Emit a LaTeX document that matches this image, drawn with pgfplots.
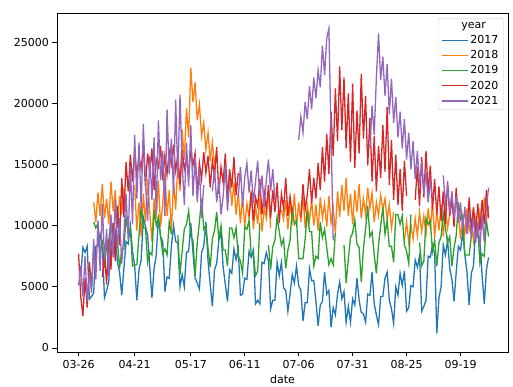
\documentclass[border=0pt]{standalone}
\usepackage{fontspec}
\setmainfont{DejaVu Sans}
\usepackage{pgfplots}
\usepackage{pgfplotstable}
\pgfplotsset{compat=1.18}
\definecolor{c17}{HTML}{1F77B4}
\definecolor{c18}{HTML}{FF7F0E}
\definecolor{c19}{HTML}{2CA02C}
\definecolor{c20}{HTML}{D62728}
\definecolor{c21}{HTML}{9467BD}
\pgfplotstableread{
d a b c e f
85 5900 nan nan 7700 5100
86 5900 nan nan 4200 6700
87 8200 nan nan 2600 4200
88 7800 nan nan 5700 7500
89 8300 nan nan 3300 3800
90 4000 nan nan 7000 6200
91 4200 nan nan 4900 4500
92 4500 11900 10300 8100 8900
93 8300 10300 9800 nan 5600
94 8300 12700 10200 nan 10400
95 9300 10800 7700 nan 6300
96 8400 13400 8600 5800 11800
97 4100 10600 6500 7800 7200
98 4700 12200 8400 5200 9700
99 5400 10100 8700 8900 5800
100 8800 13600 10600 6400 10900
101 8200 11200 9400 10200 7400
102 9400 12900 8300 7100 12100
103 7000 9800 8800 11600 8200
104 6200 12400 6500 8400 10600
105 4300 10900 8000 13900 6900
106 6500 13100 8100 10700 9300
107 8700 11500 10700 15200 12600
108 8500 nan 9400 12800 8800
109 10000 nan 9800 15800 14900
110 7900 nan 6700 13600 10100
111 6700 13300 6800 16200 17400
112 3900 9600 6800 14100 12200
113 6400 11900 9200 15600 16800
114 7200 9100 11500 14700 11300
115 10700 12600 9800 16400 18300
116 9900 10300 9800 13200 13500
117 9200 13800 7000 15900 10400
118 6600 11100 7800 14400 15700
119 4100 8700 7600 16300 12100
120 6500 12200 11300 12900 17200
121 7600 10600 10000 15400 11000
122 10700 13700 10700 14800 18600
123 9100 9900 9100 16500 13700
124 8700 11800 7700 13700 16100
125 4600 14300 8100 15700 10800
126 5800 10800 7600 14200 19500
127 5700 12900 10300 16100 14200
128 8300 9400 9300 15000 17100
129 10000 13600 nan 16600 12600
130 8700 11300 nan 14500 20300
131 8600 15200 9200 15800 13900
132 5000 12800 6000 13300 20700
133 6000 17800 7900 16200 15100
134 5000 15400 9700 14600 11700
135 7800 19600 10100 15500 16800
136 7900 17200 11200 13900 13200
137 10200 22900 9100 16300 18200
138 7800 20100 8800 14900 12400
139 5700 21700 5900 15900 15600
140 5300 18600 8600 12700 11900
141 4800 19900 10300 15100 14700
142 7800 17300 12200 13800 10600
143 8300 18400 9700 16000 13300
144 10300 16200 10000 14300 nan
145 7100 17600 8100 15700 nan
146 5200 15300 6600 13100 nan
147 3400 16800 8900 15300 12800
148 6400 14900 9600 14000 14600
149 6900 16100 11100 16400 11900
150 8800 nan 8900 12600 13700
151 9400 nan 10000 14800 10900
152 6600 nan 8000 13500 12400
153 5200 14800 8000 15900 14900
154 3800 12300 6700 12200 11200
155 6400 14100 9800 14600 13600
156 6100 11600 9800 13100 nan
157 8100 13500 9000 15600 nan
158 7200 10900 9800 12500 nan
159 8100 12700 7500 14300 12300
160 4300 10200 7100 nan 14800
161 4400 12400 6100 nan 11600
162 5700 9900 9900 nan 13900
163 5600 11800 9700 nan 15100
164 7900 10600 10400 10800 12700
165 7400 12900 7600 12700 14500
166 8000 9700 7700 10400 11800
167 3600 11600 5900 12300 13600
168 3900 10100 6300 11600 15300
169 3600 12300 10200 13800 12400
170 7000 9500 nan 10900 14100
171 6900 11400 nan 12800 11500
172 7800 10600 nan 11300 13700
173 7100 12800 8400 13300 15400
174 3200 9800 6400 10600 12800
175 3900 nan 8300 12900 14600
176 3900 nan 8800 11100 12100
177 7000 nan 10700 13500 nan
178 5900 nan 9500 10200 nan
179 7000 11300 8400 12600 nan
180 4900 10500 8900 11400 nan
181 4700 12100 6500 13900 nan
182 3000 9700 8000 10800 nan
183 4400 11800 8800 12400 nan
184 6000 10400 11500 11000 nan
185 5300 12600 10100 nan nan
186 6700 9900 10400 nan nan
187 5100 11900 7300 nan 17000
188 4700 10300 7300 10700 18900
189 2200 12400 7300 13400 17600
190 3700 9800 8900 11300 20100
191 3700 11600 11200 12500 18700
192 6500 10400 9500 14600 21400
193 5500 12100 9500 11800 19500
194 5500 10000 6700 13900 22100
195 3800 11700 7500 12200 20400
196 1800 9600 7300 15100 22700
197 3500 12300 10300 12900 21300
198 3800 10600 9000 16400 24700
199 6200 11800 9700 13600 22300
200 4400 9900 8200 17500 25300
201 4700 12400 6800 14200 26100
202 1700 10200 7300 19300 17500
203 3300 11500 6800 15700 8800
204 2700 9400 9400 21200 nan
205 4400 12800 nan 16900 nan
206 5400 10700 nan 23000 nan
207 4000 13300 nan 17800 nan
208 4600 11200 8400 22100 nan
209 2100 13900 5300 16300 nan
210 3400 10800 7200 20800 nan
211 2100 12600 9000 15200 nan
212 4000 10100 9400 21600 nan
213 3500 12900 10500 14700 nan
214 5700 11100 8500 19400 nan
215 3900 13400 8200 15900 nan
216 2900 10600 5400 22400 nan
217 2800 12200 8100 17100 nan
218 2100 10900 9700 20600 nan
219 4400 13100 11600 14900 nan
220 4300 11400 9100 18800 16300
221 6200 12700 9500 13600 19800
222 3600 10300 7600 17300 17400
223 2700 11900 6100 12800 22100
224 1900 10800 8400 16500 25700
225 4200 12500 10000 13900 21900
226 4200 11300 11500 18200 23800
227 5700 12200 9300 14400 20600
228 6200 10500 10400 19700 23200
229 3900 11700 8300 13300 19100
230 3200 9800 8300 17000 22000
231 2000 11100 7000 12100 18400
232 5000 nan 10900 15800 20500
233 4300 nan 10900 11700 17200
234 6100 nan 10100 14600 19300
235 5100 nan 10800 11200 16300
236 6300 8800 8400 15300 18700
237 3000 10300 7900 12400 15400
238 3300 8600 6900 nan 17600
239 5100 10100 10900 nan 14600
240 5000 8900 nan nan 16900
241 7200 10600 nan 12100 13800
242 6600 9200 nan 14800 16100
243 7500 11100 8600 11600 13300
244 3000 9500 6700 15600 15200
245 3400 10800 7100 12300 12600
246 3900 9300 10600 16100 14400
247 7500 11400 10100 12700 11900
248 7400 9700 10400 14900 13600
249 8400 11900 7900 11300 12300
250 7700 9000 8800 13800 nan
251 1200 11200 6700 10900 nan
252 4100 9600 8600 13200 nan
253 5000 11700 9100 10400 nan
254 8400 9100 11000 12800 14100
255 7600 11300 9800 10100 11800
256 8800 9800 8600 13600 13200
257 6500 10900 9100 10800 11100
258 5600 nan 6700 12200 12800
259 3800 nan 8200 9900 10600
260 6200 nan 9200 13100 12400
261 8300 11000 11900 10300 10200
262 8000 8900 10500 nan 11900
263 9500 10700 10800 nan 9700
264 7600 9300 7600 nan 11500
265 6200 11400 7600 9400 9300
266 3500 9600 7600 12300 11100
267 6100 10200 9100 9700 8900
268 6700 8800 11400 11500 10700
269 10000 10600 9700 9200 8600
270 9100 9400 9700 11800 10300
271 8700 11100 6900 9600 8300
272 5900 9700 7700 12100 10900
273 3600 12300 7500 10100 8700
274 6400 10400 10400 12900 11600
275 7400 11600 9100 10600 13100
}\datatable
\begin{document}
\begin{tikzpicture}
\useasboundingbox (0,0) rectangle (513pt,387pt);
\begin{axis}[
  at={(57pt,35pt)}, anchor=south west,
  scale only axis, width=451pt, height=339pt,
  xmin=75, xmax=284, ymin=-330, ymax=27370,
  xtick={85,111,137,162,187,212,237,262},
  xticklabels={03-26,04-21,05-17,06-11,07-06,07-31,08-25,09-19},
  ytick={0,5000,10000,15000,20000,25000},
  scaled y ticks=false,
  yticklabel style={/pgf/number format/.cd, 1000 sep={}},
  /pgf/number format/assume math mode=true,
  tick label style={font=\fontsize{11}{13}\selectfont},
  label style={font=\fontsize{11}{13}\selectfont},
  xlabel={date},
  tick align=outside, xtick pos=bottom, ytick pos=left,
  major tick length=4.5pt,
  tick style={black, line width=0.8pt},
  axis line style={line width=0.8pt},
  unbounded coords=jump,
  every axis plot/.append style={line width=1.3pt, no markers},
  legend image code/.code={\draw[#1] (0pt,0pt) -- (26pt,0pt);},
  legend cell align=left,
  legend style={at={(0.99,0.985)}, anchor=north east, draw=black!20, rounded corners=2pt,
    fill=white, fill opacity=0.8, text opacity=1, font=\fontsize{11}{13}\selectfont, row sep=1.5pt},
]
\addlegendimage{empty legend}
\addlegendentry{\hspace*{-9pt}year}
\addplot[c17] table[x=d,y=a]{\datatable};
\addlegendentry{2017}
\addplot[c18] table[x=d,y=b]{\datatable};
\addlegendentry{2018}
\addplot[c19] table[x=d,y=c]{\datatable};
\addlegendentry{2019}
\addplot[c20] table[x=d,y=e]{\datatable};
\addlegendentry{2020}
\addplot[c21] table[x=d,y=f]{\datatable};
\addlegendentry{2021}
\end{axis}
\end{tikzpicture}
\end{document}
